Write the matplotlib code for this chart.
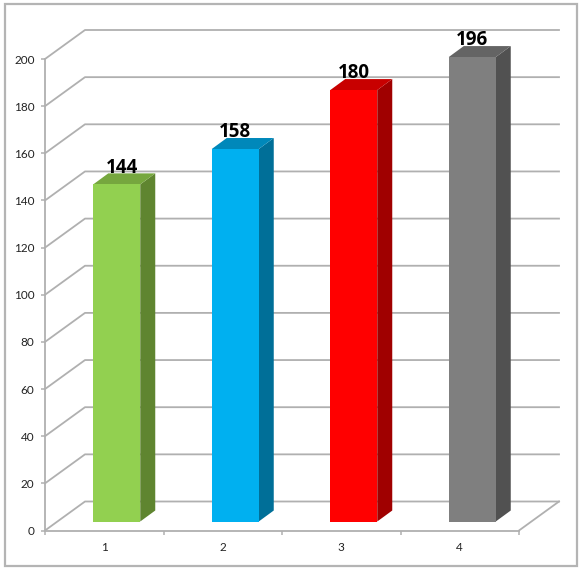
import matplotlib
matplotlib.use('Agg')
import matplotlib.pyplot as plt
from matplotlib.patches import Polygon, Rectangle

categories = ['1', '2', '3', '4']
# heights, the printed labels differ a little
bar_values = [143, 158, 183, 197]
value_labels = ['144', '158', '180', '196']
y_ticks = [0, 20, 40, 60, 80, 100, 120, 140, 160, 180, 200]

front_colors = ['#92D050', '#00B0F0', '#FF0000', '#7F7F7F']
top_colors = ['#76A73E', '#0088BA', '#C80000', '#646464']
side_colors = ['#5F8530', '#006F98', '#A00000', '#515151']

W, H = 581, 570
plt.rcParams['font.family'] = ['Lato', 'DejaVu Sans']

fig = plt.figure(figsize=(W/100, H/100), dpi=100)
fig.patch.set_facecolor('white')

# outer frame
fig.add_artist(Rectangle((5/W, 1-566/H), 572/W, 562/H, transform=fig.transFigure,
                         fill=False, edgecolor='#B4B4B4', linewidth=1.6))

ax = fig.add_axes([45/W, 1-530.5/H, 474/W, 471.5/H])
ax.set_xlim(0.5, 4.5)
ax.set_ylim(0, 200)
ax.patch.set_alpha(0)

# pixels to data units
px = 4/474
py = 200/471.5
depth_x, depth_y = 40*px, 29*py
grey = '#B0B0B0'

# floor and back wall lines
for y in y_ticks:
    ax.plot([0.5, 0.5+depth_x, 4.5+depth_x], [y, y+depth_y, y+depth_y],
            color=grey, lw=1.3, clip_on=False, zorder=1)
ax.plot([4.5, 4.5+depth_x], [0, depth_y], color=grey, lw=1.3, clip_on=False, zorder=1)

# bars
bar_w = 47*px
shift_x, base = 12.5*px, 9*py
dx, dy = 15*px, 11*py
for i, v in enumerate(bar_values):
    x0 = i + 1 + shift_x - bar_w/2
    x1 = x0 + bar_w
    top = base + v
    ax.add_patch(Polygon([(x1, base), (x1+dx, base+dy), (x1+dx, top+dy), (x1, top)],
                         facecolor=side_colors[i], edgecolor='none', clip_on=False, zorder=2))
    ax.add_patch(Polygon([(x0, top), (x0+dx, top+dy), (x1+dx, top+dy), (x1, top)],
                         facecolor=top_colors[i], edgecolor='none', clip_on=False, zorder=2))
    ax.add_patch(Rectangle((x0, base), bar_w, v, facecolor=front_colors[i],
                           edgecolor='none', clip_on=False, zorder=3))
    ax.annotate(value_labels[i], xy=(i + 1 + shift_x, top), xytext=(4 if i == 0 else 0, 12),
                textcoords='offset points', ha='center', va='center', family='Open Sans',
                fontsize=13.5, fontweight='bold', color='black', zorder=5, annotation_clip=False)

# axes
for s in ['top', 'right']:
    ax.spines[s].set_visible(False)
for s in ['left', 'bottom']:
    ax.spines[s].set_color(grey)
    ax.spines[s].set_linewidth(1.3)
    ax.spines[s].set_zorder(4)

ax.set_yticks(y_ticks)
ax.set_yticklabels([str(t) for t in y_ticks])
ax.set_xticks([0.5, 1.5, 2.5, 3.5, 4.5])
ax.set_xticklabels([])
ax.set_xticks([1, 2, 3, 4], minor=True)
ax.set_xticklabels(categories, minor=True)
ax.tick_params(axis='y', length=3, width=1.1, color=grey, labelsize=8.5, labelcolor='#222222', pad=4.5)
ax.tick_params(axis='x', which='major', length=3, width=1.1, color=grey)
ax.tick_params(axis='x', which='minor', length=0, labelsize=8.5, labelcolor='#222222', pad=8)

fig.savefig('out.png', dpi=100)
